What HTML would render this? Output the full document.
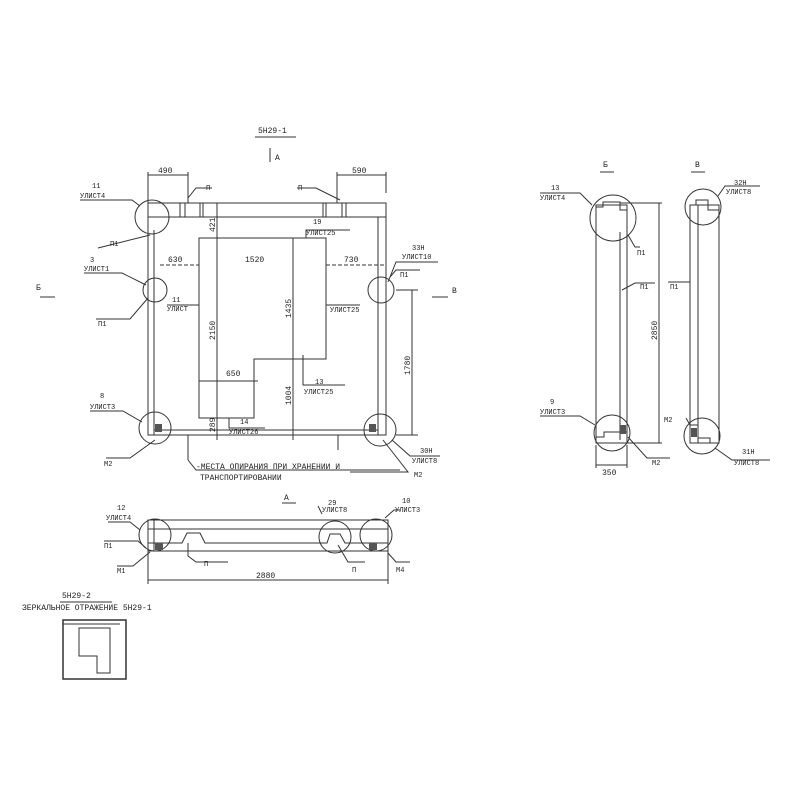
<!DOCTYPE html>
<html><head><meta charset="utf-8"><style>
html,body{margin:0;padding:0;background:#fff}
svg{display:block}
text{font-family:"Liberation Mono",monospace;fill:#222;font-size:8px}
.t{font-size:7px}
</style></head><body>
<svg width="800" height="800" viewBox="0 0 800 800" xmlns="http://www.w3.org/2000/svg" stroke="#333" stroke-width="1" fill="none">
<!-- title -->
<text x="258" y="133" font-size="10" stroke="none">5Н29-1</text>
<line x1="255" y1="137" x2="296" y2="137"/>
<line x1="270" y1="148" x2="270" y2="162"/>
<text x="275" y="160" font-size="9" stroke="none">А</text>

<!-- main plan -->
<rect x="148" y="203" width="238" height="232"/>
<line x1="148" y1="217" x2="386" y2="217"/>
<line x1="154" y1="230" x2="154" y2="435"/>
<line x1="378" y1="217" x2="378" y2="435"/>
<line x1="154" y1="430" x2="378" y2="430"/>
<line x1="180" y1="203" x2="180" y2="217"/><line x1="185" y1="203" x2="185" y2="217"/>
<line x1="200" y1="203" x2="200" y2="217"/><line x1="203" y1="203" x2="203" y2="217"/>
<line x1="323" y1="203" x2="323" y2="217"/><line x1="326" y1="203" x2="326" y2="217"/>
<line x1="342" y1="203" x2="342" y2="217"/><line x1="346" y1="203" x2="346" y2="217"/>
<path d="M199,238 H326 V359 H254 V418 H199 Z"/>
<!-- dims -->
<line x1="217" y1="203" x2="217" y2="440"/>
<line x1="293" y1="238" x2="293" y2="440"/>
<line x1="148" y1="172" x2="148" y2="203"/><line x1="188" y1="172" x2="188" y2="203"/>
<line x1="148" y1="175" x2="188" y2="175"/><text x="158" y="173" stroke="none">490</text>
<line x1="337" y1="175" x2="386" y2="175"/><line x1="337" y1="172" x2="337" y2="203"/><line x1="386" y1="172" x2="386" y2="193"/>
<text x="352" y="173" stroke="none">590</text>
<text x="215" y="232" stroke="none" transform="rotate(-90 215 232)">421</text>
<text x="215" y="340" stroke="none" transform="rotate(-90 215 340)">2150</text>
<text x="215" y="432" stroke="none" transform="rotate(-90 215 432)">289</text>
<text x="291" y="318" stroke="none" transform="rotate(-90 291 318)">1435</text>
<text x="291" y="405" stroke="none" transform="rotate(-90 291 405)">1004</text>
<line x1="160" y1="265" x2="199" y2="265" stroke-dasharray="4,2"/><text x="168" y="262" stroke="none">630</text>
<text x="245" y="262" stroke="none">1520</text>
<line x1="326" y1="265" x2="386" y2="265" stroke-dasharray="4,2"/><text x="344" y="262" stroke="none">730</text>
<line x1="199" y1="381" x2="258" y2="381"/><text x="226" y="376" stroke="none">650</text>
<line x1="412" y1="290" x2="412" y2="435"/><line x1="396" y1="290" x2="418" y2="290"/><line x1="396" y1="435" x2="418" y2="435"/>
<text x="410" y="375" stroke="none" transform="rotate(-90 410 375)">1780</text>
<!-- circles -->
<circle cx="152" cy="217" r="17"/>
<circle cx="155" cy="290" r="12"/>
<circle cx="155" cy="428" r="16"/>
<circle cx="381" cy="290" r="13"/>
<circle cx="380" cy="430" r="16"/>
<rect x="155" y="424" width="7" height="8" fill="#555" stroke="none"/>
<rect x="369" y="424" width="7" height="8" fill="#555" stroke="none"/>
<!-- leaders -->
<path d="M80,200 H132 L140,206"/><text x="92" y="188" class="t" stroke="none">11</text><text x="80" y="198" class="t" stroke="none">УЛИСТ4</text>
<path d="M98,248 L150,235"/><text x="110" y="246" class="t" stroke="none">П1</text>
<path d="M84,273 H122 L146,285"/><text x="90" y="262" class="t" stroke="none">3</text><text x="84" y="271" class="t" stroke="none">УЛИСТ1</text>
<path d="M96,319 H130 L148,298"/><text x="98" y="326" class="t" stroke="none">П1</text>
<path d="M90,411 H123 L142,422"/><text x="100" y="398" class="t" stroke="none">8</text><text x="90" y="409" class="t" stroke="none">УЛИСТ3</text>
<path d="M106,458 H130 L155,440"/><text x="104" y="466" class="t" stroke="none">М2</text>
<path d="M167,305 H199"/><text x="172" y="302" class="t" stroke="none">11</text><text x="167" y="311" class="t" stroke="none">УЛИСТ</text>
<path d="M188,198 L196,188 H212"/><text x="206" y="190" class="t" stroke="none">П</text>
<path d="M340,200 L316,188 H297"/><text x="298" y="190" class="t" stroke="none">П</text>
<path d="M306,238 V230 H350"/><text x="313" y="224" class="t" stroke="none">19</text><text x="306" y="235" class="t" stroke="none">УЛИСТ25</text>
<path d="M326,305 H360"/><text x="330" y="312" class="t" stroke="none">УЛИСТ25</text>
<path d="M303,355 V385 H345"/><text x="315" y="384" class="t" stroke="none">13</text><text x="304" y="394" class="t" stroke="none">УЛИСТ25</text>
<path d="M229,418 V428 H265"/><text x="240" y="424" class="t" stroke="none">14</text><text x="229" y="434" class="t" stroke="none">УЛИСТ26</text>
<path d="M388,282 L396,262 H438"/><text x="412" y="250" class="t" stroke="none">33Н</text><text x="402" y="259" class="t" stroke="none">УЛИСТ10</text>
<path d="M390,277 L396,270 H420"/><text x="400" y="277" class="t" stroke="none">П1</text>
<path d="M392,440 L410,456 H440"/><text x="420" y="453" class="t" stroke="none">30Н</text><text x="412" y="463" class="t" stroke="none">УЛИСТ8</text>
<path d="M383,440 L408,472 H350"/><text x="414" y="477" class="t" stroke="none">М2</text>
<line x1="188" y1="435" x2="188" y2="460"/><line x1="338" y1="435" x2="338" y2="450"/>
<path d="M188,460 L196,470 H400"/>
<text x="196" y="469" stroke="none">-МЕСТА ОПИРАНИЯ ПРИ ХРАНЕНИИ И</text>
<text x="200" y="480" stroke="none">ТРАНСПОРТИРОВАНИИ</text>
<text x="36" y="290" stroke="none">Б</text><line x1="40" y1="297" x2="55" y2="297"/>
<text x="452" y="293" stroke="none">В</text><line x1="432" y1="297" x2="448" y2="297"/>

<!-- side Б -->
<text x="603" y="167" font-size="10" stroke="none">Б</text><line x1="600" y1="172" x2="614" y2="172"/>
<rect x="596" y="205" width="31" height="238"/>
<line x1="620" y1="232" x2="620" y2="440"/>
<path d="M596,233 V207 H603 V202 H620 V210 H627"/>
<path d="M596,443 V437 H604 V432 H627"/>
<circle cx="613" cy="218" r="23"/>
<circle cx="612" cy="433" r="18"/>
<rect x="620" y="425" width="6" height="9" fill="#555" stroke="none"/>
<line x1="659" y1="203" x2="659" y2="443"/><line x1="620" y1="203" x2="662" y2="203"/><line x1="616" y1="443" x2="662" y2="443"/>
<text x="657" y="340" stroke="none" transform="rotate(-90 657 340)">2850</text>
<line x1="596" y1="465" x2="627" y2="465"/><line x1="596" y1="445" x2="596" y2="468"/><line x1="627" y1="445" x2="627" y2="468"/>
<text x="602" y="475" stroke="none">350</text>
<path d="M540,193 H580 L592,205"/><text x="551" y="190" class="t" stroke="none">13</text><text x="540" y="200" class="t" stroke="none">УЛИСТ4</text>
<path d="M628,235 L635,247 H640"/><text x="637" y="255" class="t" stroke="none">П1</text>
<path d="M622,290 L635,283 H655"/><text x="640" y="289" class="t" stroke="none">П1</text>
<path d="M540,416 H580 L595,425"/><text x="550" y="404" class="t" stroke="none">9</text><text x="540" y="414" class="t" stroke="none">УЛИСТ3</text>
<path d="M628,437 L647,458 H670"/><text x="652" y="465" class="t" stroke="none">М2</text>

<!-- side В -->
<text x="695" y="167" font-size="10" stroke="none">В</text><line x1="691" y1="172" x2="705" y2="172"/>
<rect x="690" y="205" width="29" height="238"/>
<line x1="698" y1="205" x2="698" y2="443"/>
<path d="M690,205 H696 V200 H708 V210 H719"/>
<path d="M690,425 H698 V438 H710 V443"/>
<circle cx="703" cy="207" r="18"/>
<circle cx="702" cy="436" r="18"/>
<rect x="691" y="428" width="6" height="9" fill="#555" stroke="none"/>
<path d="M718,196 L725,186 H760"/><text x="734" y="185" class="t" stroke="none">32Н</text><text x="726" y="194" class="t" stroke="none">УЛИСТ8</text>
<line x1="668" y1="282" x2="690" y2="282"/><text x="670" y="289" class="t" stroke="none">П1</text>
<path d="M686,418 L690,425"/><text x="664" y="422" class="t" stroke="none">М2</text>
<path d="M715,448 L732,460 H770"/><text x="742" y="454" class="t" stroke="none">31Н</text><text x="734" y="465" class="t" stroke="none">УЛИСТ8</text>

<!-- bottom view А -->
<text x="284" y="500" font-size="10" stroke="none">А</text><line x1="282" y1="503" x2="296" y2="503"/>
<rect x="148" y="520" width="240" height="31"/>
<line x1="148" y1="529" x2="388" y2="529"/>
<line x1="154" y1="520" x2="154" y2="551"/>
<path d="M148,543 H182 L187,533 H200 L205,543 H327 L330,534 H340 L345,543 H388"/>
<circle cx="155" cy="535" r="16"/>
<circle cx="335" cy="537" r="16"/>
<circle cx="376" cy="535" r="16"/>
<rect x="155" y="543" width="8" height="7" fill="#555" stroke="none"/>
<rect x="369" y="543" width="8" height="7" fill="#555" stroke="none"/>
<line x1="148" y1="580" x2="388" y2="580"/><line x1="148" y1="551" x2="148" y2="584"/><line x1="388" y1="551" x2="388" y2="584"/>
<text x="256" y="578" stroke="none">2880</text>
<path d="M108,522 H130 L140,530"/><text x="117" y="510" class="t" stroke="none">12</text><text x="106" y="520" class="t" stroke="none">УЛИСТ4</text>
<text x="104" y="548" class="t" stroke="none">П1</text><path d="M104,541 H138 L146,548"/>
<path d="M117,566 H133 L150,552"/><text x="117" y="573" class="t" stroke="none">М1</text>
<path d="M188,543 V556 L196,562 H228"/><text x="204" y="566" class="t" stroke="none">П</text>
<path d="M322,514 L318,506"/><text x="328" y="505" class="t" stroke="none">29</text><text x="322" y="512" class="t" stroke="none">УЛИСТ8</text>
<path d="M385,518 L394,510 H400"/><text x="402" y="503" class="t" stroke="none">10</text><text x="395" y="512" class="t" stroke="none">УЛИСТ3</text>
<path d="M338,545 L348,562 H365"/><text x="352" y="572" class="t" stroke="none">П</text>
<path d="M388,553 L396,562 H410"/><text x="396" y="572" class="t" stroke="none">М4</text>

<!-- 5Н29-2 -->
<text x="62" y="598" stroke="none">5Н29-2</text><line x1="60" y1="602" x2="112" y2="602"/>
<text x="22" y="610" stroke="none">ЗЕРКАЛЬНОЕ ОТРАЖЕНИЕ 5Н29-1</text>
<rect x="63" y="620" width="63" height="59" stroke-width="1.5"/>
<line x1="63" y1="624" x2="120" y2="624"/>
<path d="M79,628 H110 V673 H97 V656 H79 Z"/>
</svg>
</body></html>
